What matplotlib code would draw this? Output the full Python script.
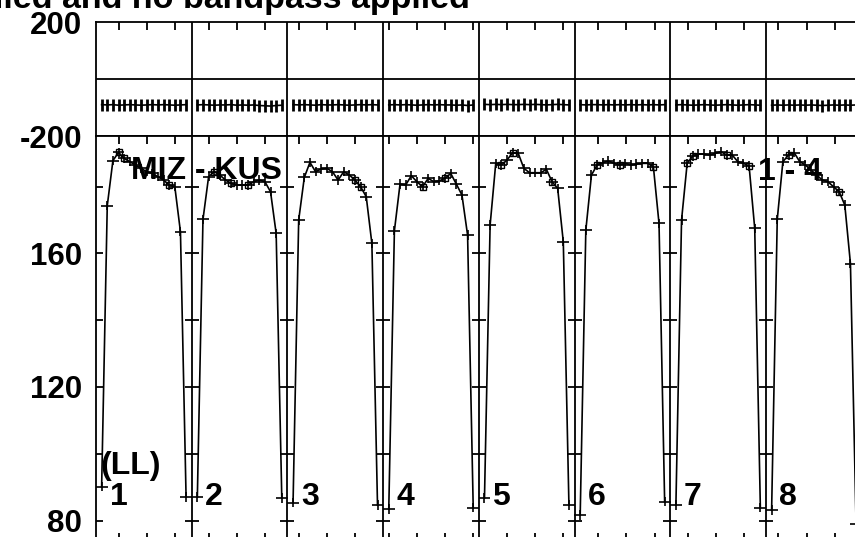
import numpy as np
import matplotlib
matplotlib.use('Agg')
import matplotlib.pyplot as plt

# POSSM-style plot: phase (top) and amplitude (bottom) for 8 IFs x 16 channels
plt.rcParams['font.family'] = ['Liberation Sans', 'DejaVu Sans']
plt.rcParams['font.weight'] = 'bold'
plt.rcParams['axes.unicode_minus'] = False

n_chan = 16
if_labels = ['1', '2', '3', '4', '5', '6', '7', '8']

amp_if1 = [90.1, 174.3, 187.8, 190.3, 188.5, 187.5, 186.5, 185.5, 184.5, 184.0, 183.0, 182.0, 180.5, 180.0, 166.5, 87.0]
amp_if2 = [87.0, 170.2, 183.0, 184.5, 183.5, 182.0, 181.0, 180.5, 180.5, 180.5, 181.5, 182.0, 181.5, 178.5, 166.0, 86.7]
amp_if3 = [85.3, 170.0, 182.8, 187.3, 184.5, 185.3, 185.5, 184.5, 182.0, 184.5, 183.5, 182.0, 180.0, 177.0, 163.0, 84.6]
amp_if4 = [83.4, 166.8, 180.8, 180.5, 183.3, 181.5, 180.0, 182.5, 181.5, 181.8, 182.5, 184.0, 180.8, 177.5, 165.5, 83.8]
amp_if5 = [86.7, 168.5, 187.0, 186.5, 188.0, 190.2, 190.0, 185.5, 184.2, 184.2, 184.2, 185.2, 181.5, 179.5, 163.5, 84.6]
amp_if6 = [81.6, 167.0, 183.5, 186.5, 187.2, 187.7, 187.0, 186.5, 187.0, 186.5, 186.8, 187.0, 187.0, 186.0, 169.0, 85.6]
amp_if7 = [84.6, 170.0, 187.0, 189.2, 189.8, 189.8, 189.5, 190.0, 190.5, 189.5, 189.5, 187.5, 187.0, 186.2, 167.5, 83.8]
amp_if8 = [83.1, 170.2, 187.5, 189.5, 190.2, 187.5, 186.5, 185.0, 183.5, 182.0, 181.5, 180.0, 178.5, 174.5, 157.0, 79.0]

phase_if1 = [-90, -91, -90, -92, -91, -90, -91, -92, -91, -90, -91, -90, -91, -92, -91, -90]
phase_if2 = [-91, -90, -91, -92, -91, -91, -90, -92, -91, -92, -91, -93, -94, -95, -93, -92]
phase_if3 = [-90, -91, -90, -91, -92, -90, -91, -91, -90, -91, -92, -91, -90, -91, -90, -91]
phase_if4 = [-91, -90, -91, -90, -91, -92, -91, -90, -91, -90, -91, -91, -92, -91, -93, -91]
phase_if5 = [-89, -90, -89, -90, -89, -90, -90, -89, -90, -89, -90, -91, -90, -89, -90, -91]
phase_if6 = [-90, -91, -90, -90, -91, -90, -91, -90, -91, -90, -91, -90, -91, -90, -91, -90]
phase_if7 = [-91, -90, -91, -92, -91, -90, -91, -92, -91, -90, -91, -92, -91, -90, -91, -92]
phase_if8 = [-92, -91, -92, -91, -92, -91, -92, -91, -92, -93, -92, -91, -92, -91, -92, -91]

# channels drawn with a small square on top of the cross
square_if1 = [3, 4, 12]
square_if2 = [3, 6, 9]
square_if3 = [11, 12]
square_if4 = [6, 10]
square_if5 = [3, 5, 12]
square_if6 = [3, 7, 13]
square_if7 = [2, 3, 9, 13]
square_if8 = [3, 12]

amps = [amp_if1, amp_if2, amp_if3, amp_if4, amp_if5, amp_if6, amp_if7, amp_if8]
phases = [phase_if1, phase_if2, phase_if3, phase_if4, phase_if5, phase_if6, phase_if7, phase_if8]
squares = [square_if1, square_if2, square_if3, square_if4, square_if5, square_if6, square_if7, square_if8]

title_text = 'Amplitude calibration applied and no bandpass applied'
baseline_text = 'MIZ - KUS'
pol_text = '(LL)'
range_text = '1 - 4'

# frequency tick positions (in plot channel units)
freq_ticks = [4, 9, 14, 20, 25, 30, 36, 41, 46, 52, 57, 62, 67, 73, 78, 83,
              89.2, 94.2, 99.2, 105.2, 110.1, 115.1, 121.2, 126.2, 131.2]

W, H = 855, 537
def frac(left, top, right, bottom):
    return [left / W, 1 - bottom / H, (right - left) / W, (bottom - top) / H]

fig = plt.figure(figsize=(W / 100, H / 100), dpi=100)
ax_ph = fig.add_axes(frac(96, 22, 861.7, 136))
ax_amp = fig.add_axes(frac(96, 136, 861.7, 541))

span = n_chan + 1
xmax = span * len(amps)
lw = 1.3
fs_tick = 22.5
fs_text = 23

for k in range(len(amps)):
    x = np.arange(n_chan) + 1 + k * span
    a = np.array(amps[k])
    p = np.array(phases[k])
    ax_amp.errorbar(x, a, xerr=1.05, yerr=1.4, fmt='-', color='k', lw=1.2,
                    elinewidth=1.2, capsize=0)
    sq = squares[k]
    ax_amp.plot(x[sq], a[sq], 's', ms=4.5, mfc='none', mec='k', mew=1.0)
    ax_ph.plot(x, p, '-', color='k', lw=1.2, marker='|', ms=8.5, mew=2.0)
    ax_amp.text(k * span + 2.4, 87.0, if_labels[k], fontsize=fs_text, fontweight='bold',
                ha='left', va='center')

for ax in (ax_ph, ax_amp):
    ax.set_xlim(0, xmax)
    for b in range(span, xmax, span):
        ax.axvline(b, color='k', lw=lw)
    for s in ax.spines.values():
        s.set_linewidth(lw)
    ax.set_xticks(freq_ticks)
    ax.tick_params(axis='x', direction='in', length=6, width=lw,
                   labelbottom=False, labeltop=False)
    ax.tick_params(axis='y', length=0, pad=10, labelsize=fs_tick)

ax_ph.set_ylim(-200, 200)
ax_ph.set_yticks([-200, 200])
ax_ph.axhline(0, color='k', lw=lw)
ax_ph.tick_params(axis='x', top=True, bottom=False)

ax_amp.set_ylim(73.86, 195.2)
ax_amp.set_yticks([80, 120, 160])
ax_amp.tick_params(axis='x', top=True, bottom=True)
amp_minor = [80, 100, 120, 140, 160, 180]
for b in range(0, xmax + 1, span):
    ax_amp.hlines(amp_minor, b - 1.25, b + 1.25, color='k', lw=lw)

ax_amp.text(6.2, 184.7, baseline_text, fontsize=fs_text, fontweight='bold', ha='left', va='center')
ax_amp.text(117.6, 184.3, range_text, fontsize=fs_text, fontweight='bold', ha='left', va='center')
ax_amp.text(0.7, 96.3, pol_text, fontsize=fs_text, fontweight='bold', ha='left', va='center')

fig.text(470 / W, 1 - 8 / H, title_text, fontsize=24.5, fontweight='bold',
         ha='right', va='baseline')

fig.savefig('out.png', dpi=100)
